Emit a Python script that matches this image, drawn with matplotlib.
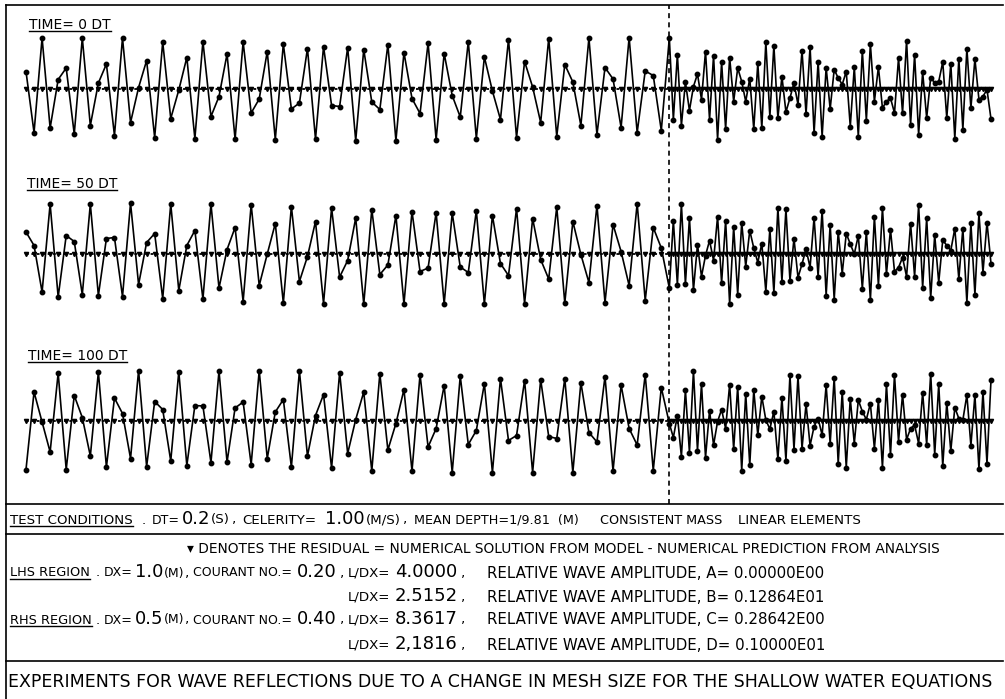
import numpy as np
import matplotlib.pyplot as plt
from matplotlib.lines import Line2D

W, H = 1005, 699

# node positions: LHS dx = 1.0, RHS dx = 0.5, interface at node 80
x_lhs = np.arange(0, 81, 1.0)
x_rhs = np.arange(80.5, 120.01, 0.5)
interface_x = 80.0

titles = ['TIME= 0 DT', 'TIME= 50 DT', 'TIME= 100 DT']

# surface elevation (relative units), LHS nodes 0..80
t0_lhs = [0.35, -0.87, 1.02, -0.78, 0.19, 0.42, -0.90, 1.02, -0.73, 0.12,
          0.50, -0.93, 1.02, -0.67, 0.03, 0.57, -0.97, 0.94, -0.59, -0.02,
          0.63, -0.99, 0.95, -0.55, -0.15, 0.70, -1.00, 0.94, -0.48, -0.20,
          0.75, -1.01, 0.90, -0.40, -0.28, 0.81, -1.00, 0.85, -0.33, -0.35,
          0.83, -1.03, 0.79, -0.26, -0.41, 0.89, -1.03, 0.73, -0.19, -0.49,
          0.92, -1.01, 0.71, -0.13, -0.56, 0.95, -0.99, 0.64, -0.04, -0.61,
          0.99, -0.97, 0.55, 0.04, -0.67, 1.01, -0.95, 0.49, 0.14, -0.73,
          1.02, -0.91, 0.43, 0.20, -0.77, 1.03, -0.87, 0.36, 0.27, -0.83,
          1.02]
t0_rhs = [-0.61, 0.69, -0.73, 0.14, -0.43, 0.05, 0.30, -0.21, 0.75, -0.61,
          0.67, -1.01, 0.54, -0.80, 0.63, -0.25, 0.42, 0.15, -0.25, 0.21,
          -0.80, 0.52, -0.78, 0.94, -0.55, 0.87, -0.58, 0.25, -0.46, -0.18,
          0.12, -0.31, 0.77, -0.50, 0.85, -0.88, 0.55, -0.95, 0.43, -0.40,
          0.39, 0.22, 0.09, 0.35, -0.75, 0.44, -0.95, 0.77, -0.63, 0.90,
          -0.25, 0.44, -0.38, -0.25, -0.18, -0.48, 0.62, -0.48, 0.97, -0.71,
          0.69, -0.91, 0.34, -0.58, 0.23, 0.12, 0.15, 0.54, -0.58, 0.51,
          -0.99, 0.61, -0.81, 0.81, -0.38, 0.60, -0.21, -0.15, -0.01, -0.60]

t50_lhs = [0.44, 0.17, -0.76, 1.00, -0.86, 0.37, 0.25, -0.81, 1.00, -0.83,
           0.31, 0.33, -0.85, 1.02, -0.61, 0.23, 0.41, -0.89, 1.00, -0.73,
           0.17, 0.47, -0.90, 1.00, -0.68, 0.09, 0.53, -0.95, 0.99, -0.63,
           0.00, 0.61, -0.98, 0.95, -0.55, -0.05, 0.65, -0.99, 0.92, -0.46,
           -0.13, 0.72, -1.00, 0.89, -0.41, -0.22, 0.77, -1.00, 0.85, -0.35,
           -0.28, 0.83, -1.00, 0.82, -0.26, -0.37, 0.87, -1.00, 0.77, -0.19,
           -0.43, 0.91, -0.99, 0.71, -0.11, -0.50, 0.94, -0.98, 0.65, -0.01,
           -0.57, 0.97, -0.97, 0.59, 0.05, -0.63, 1.01, -0.93, 0.53, 0.12,
           -0.68]
t50_rhs = [0.67, -0.61, 1.00, -0.60, 0.72, -0.72, 0.19, -0.45, -0.03, 0.27,
           -0.13, 0.75, -0.58, 0.67, -1.00, 0.55, -0.81, 0.63, -0.25, 0.47,
           0.12, -0.17, 0.21, -0.75, 0.50, -0.77, 0.93, -0.55, 0.90, -0.53,
           0.31, -0.47, -0.20, 0.10, -0.27, 0.73, -0.45, 0.87, -0.83, 0.59,
           -0.91, 0.45, -0.39, 0.41, 0.20, 0.00, 0.37, -0.69, 0.45, -0.92,
           0.75, -0.63, 0.92, -0.40, 0.49, -0.35, -0.27, -0.07, -0.45, 0.61,
           -0.45, 0.98, -0.67, 0.72, -0.88, 0.38, -0.57, 0.28, 0.17, 0.07,
           0.51, -0.50, 0.51, -0.97, 0.62, -0.81, 0.82, -0.37, 0.63, -0.19]

t100_lhs = [-0.97, 0.58, -0.02, -0.62, 0.96, -0.97, 0.51, 0.07, -0.70, 0.98,
            -0.92, 0.46, 0.15, -0.75, 1.01, -0.91, 0.39, 0.23, -0.80, 0.99,
            -0.89, 0.31, 0.30, -0.83, 1.00, -0.82, 0.26, 0.38, -0.87, 1.01,
            -0.75, 0.18, 0.43, -0.92, 1.00, -0.70, 0.11, 0.53, -0.94, 0.97,
            -0.65, 0.03, 0.58, -1.00, 0.95, -0.58, -0.05, 0.63, -1.00, 0.93,
            -0.52, -0.15, 0.71, -1.03, 0.90, -0.47, -0.19, 0.75, -1.03, 0.85,
            -0.39, -0.29, 0.81, -1.03, 0.83, -0.31, -0.35, 0.85, -1.03, 0.77,
            -0.23, -0.42, 0.89, -1.00, 0.72, -0.15, -0.48, 0.93, -0.99, 0.67,
            -0.05]
t100_rhs = [-0.33, 0.11, -0.71, 0.62, -0.63, 1.00, -0.59, 0.74, -0.73, 0.21,
            -0.48, -0.01, 0.23, -0.15, 0.73, -0.56, 0.69, -0.99, 0.55, -0.88,
            0.62, -0.28, 0.49, 0.02, -0.16, 0.19, -0.76, 0.47, -0.79, 0.92,
            -0.57, 0.90, -0.55, 0.34, -0.49, -0.11, 0.05, -0.28, 0.72, -0.45,
            0.87, -0.85, 0.59, -0.93, 0.45, -0.45, 0.42, 0.19, 0.03, 0.35,
            -0.55, 0.42, -0.93, 0.74, -0.68, 0.93, -0.41, 0.53, -0.37, -0.15,
            -0.08, -0.45, 0.57, -0.47, 0.95, -0.67, 0.74, -0.90, 0.37, -0.60,
            0.27, 0.05, 0.02, 0.52, -0.49, 0.52, -0.96, 0.59, -0.85, 0.82]

# residual (model - analysis) is zero at every node
residual_value = 0.0

panels = [(t0_lhs, t0_rhs), (t50_lhs, t50_rhs), (t100_lhs, t100_rhs)]
baselines = [89, 254, 421]
title_pos = [(29, 25), (27, 184), (28, 356)]

# x mapping: node 0 at px 26, node 120 at px 991
px_per_unit = (991 - 26) / 120.0
xlo = (6 - 26) / px_per_unit
xhi = (1003 - 26) / px_per_unit


def fig_box(x0, y0, x1, y1):
    return [x0 / W, 1 - y1 / H, (x1 - x0) / W, (y1 - y0) / H]


def hline(y, x0=6, x1=1003, lw=1.2):
    fig.add_artist(Line2D([x0 / W, x1 / W], [1 - y / H, 1 - y / H],
                          transform=fig.transFigure, color='k', lw=lw))


plt.rcParams['font.family'] = ['DejaVu Sans']
fig = plt.figure(figsize=(W / 100, H / 100), dpi=100)
fig.patch.set_facecolor('white')

xs = np.concatenate([x_lhs, x_rhs])
for (lhs, rhs), base in zip(panels, baselines):
    ax = fig.add_axes(fig_box(6, base - 80, 1003, base + 80))
    ax.set_xlim(xlo, xhi)
    ax.set_ylim(-1.6, 1.6)
    ax.axis('off')
    ys = np.concatenate([lhs, rhs])
    ax.plot(xs, [residual_value] * len(xs), color='k', lw=1.3,
            ls=(0, (1.5, 1.5)), marker='v', ms=3.0)
    ax.plot(xs, ys, color='k', lw=1.2, marker='o', ms=3.2)

# interface between the two mesh regions
ax_v = fig.add_axes(fig_box(6, 5, 1003, 504))
ax_v.set_xlim(xlo, xhi)
ax_v.axis('off')
ax_v.axvline(interface_x, color='k', lw=1.2, ls=(0, (3, 2.5)))

# frame
hline(5)
fig.add_artist(Line2D([6 / W, 6 / W], [1 - 5 / H, 0], transform=fig.transFigure,
                      color='k', lw=1.2))
for y in (504, 534, 661):
    hline(y)

underlined = []


def put(x, y, s, size, ul=False):
    t = fig.text(x / W, 1 - y / H, s, fontsize=size, ha='left', va='center')
    if ul:
        underlined.append(t)
    return t


for s, (x, y) in zip(titles, title_pos):
    put(x, y, s, 10, ul=True)

small, big = 9.6, 13
put(10, 520, 'TEST CONDITIONS', small, ul=True)
put(142, 520, '.', small)
put(152, 520, 'DT=', 9.0)
put(182, 519, '0.2', big)
put(211, 520, '(S)', small)
put(232, 520, ',', small)
put(242, 520, 'CELERITY=', small)
put(325, 519, '1.00', big)
put(366, 520, '(M/S)', small)
put(403, 520, ',', small)
put(414, 520, 'MEAN DEPTH=1/9.81  (M)', 9.2)
put(600, 520, 'CONSISTENT MASS', 9.2)
put(738, 520, 'LINEAR ELEMENTS', small)

put(187, 549, '\u25be DENOTES THE RESIDUAL = NUMERICAL SOLUTION FROM MODEL - '
    'NUMERICAL PREDICTION FROM ANALYSIS', 9.9)

rows = [
    (573, 'LHS REGION', '1.0', '0.20', '4.0000', 'A= 0.00000E00'),
    (597, None, None, None, '2.5152', 'B= 0.12864E01'),
    (620, 'RHS REGION', '0.5', '0.40', '8.3617', 'C= 0.28642E00'),
    (645, None, None, None, '2,1816', 'D= 0.10000E01'),
]
for y, region, dx, cour, ldx, amp in rows:
    if region:
        put(10, y, region, 9.3, ul=True)
        put(96, y, '.', small)
        put(104, y, 'DX=', 9.0)
        put(135, y - 1, dx, big)
        put(164, y, '(M)', 9.0)
        put(185, y, ',', small)
        put(193, y, 'COURANT NO.=', 9.0)
        put(297, y - 1, cour, big)
        put(340, y, ',', small)
    put(348, y, 'L/DX=', small)
    put(395, y - 1, ldx, big)
    put(461, y, ',', small)
    put(487, y, 'RELATIVE WAVE AMPLITUDE, ' + amp, 10.8)

put(8, 682, 'EXPERIMENTS FOR WAVE REFLECTIONS DUE TO A CHANGE IN MESH SIZE '
    'FOR THE SHALLOW WATER EQUATIONS', 12.5)

fig.canvas.draw()
r = fig.canvas.get_renderer()
for t in underlined:
    bb = t.get_window_extent(r)
    yy = (bb.y0 + 1) / H
    fig.add_artist(Line2D([bb.x0 / W, bb.x1 / W], [yy, yy],
                          transform=fig.transFigure, color='k', lw=1.0))

fig.savefig('out.png', dpi=100)
